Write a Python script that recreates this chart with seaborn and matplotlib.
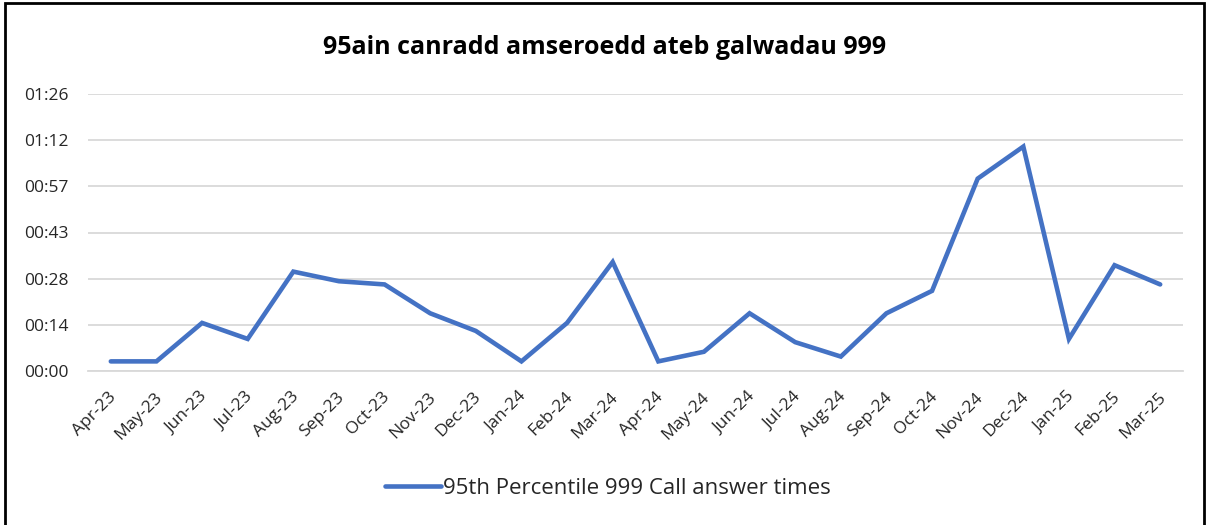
import seaborn as sns
import matplotlib.pyplot as plt
import matplotlib.ticker as mticker
import matplotlib.transforms as mtransforms
import pandas as pd
from matplotlib.patches import Rectangle

months = ["Apr-23", "May-23", "Jun-23", "Jul-23", "Aug-23", "Sep-23", "Oct-23", "Nov-23",
          "Dec-23", "Jan-24", "Feb-24", "Mar-24", "Apr-24", "May-24", "Jun-24", "Jul-24",
          "Aug-24", "Sep-24", "Oct-24", "Nov-24", "Dec-24", "Jan-25", "Feb-25", "Mar-25"]
# seconds
answer_secs = [3, 3, 15, 10, 31, 28, 27, 18, 12.5, 3, 15, 34,
               3, 6, 18, 9, 4.5, 18, 25, 60, 70, 10, 33, 27]
series_name = "95th Percentile 999 Call answer times"
title = "95ain canradd amseroedd ateb galwadau 999"


def fmt_time(v, pos):
    s = int(v + 1e-6)
    return "%02d:%02d" % (s // 60, s % 60)


def main():
    sns.set_theme(style="white")
    plt.rcParams["font.family"] = ["Open Sans", "DejaVu Sans"]

    df = pd.DataFrame({"idx": range(len(months)), "secs": answer_secs})

    fig = plt.figure(figsize=(12.09, 5.25), dpi=100)
    ax = fig.add_axes([88 / 1209, 1 - 371 / 525, (1183 - 88) / 1209, (371 - 94) / 525])

    sns.lineplot(data=df, x="idx", y="secs", ax=ax, color="#4472C4", linewidth=3.3,
                 solid_capstyle="round", solid_joinstyle="miter", label=series_name, legend=False)

    ax.set_xlim(-0.5, len(months) - 0.5)
    ax.set_ylim(0, 86.4)
    ax.yaxis.set_major_locator(mticker.MultipleLocator(14.4))
    ax.yaxis.set_major_formatter(mticker.FuncFormatter(fmt_time))
    ax.grid(axis="y", color="#d9d9d9", linewidth=1.3)
    ax.set_axisbelow(True)

    ax.set_xticks(range(len(months)))
    ax.set_xticklabels(months, rotation=45, ha="right", va="center", rotation_mode="anchor")
    ax.set_xticks([i - 0.5 for i in range(len(months) + 1)], minor=True)
    ax.tick_params(axis="x", which="major", length=0, pad=17, labelsize=12.5, colors="#262626")
    ax.tick_params(axis="x", which="minor", length=5, width=1, color="#d9d9d9")
    ax.tick_params(axis="y", length=0, pad=14, labelsize=12.5, colors="#262626")
    shift = mtransforms.ScaledTranslation(3 / 100, 0, fig.dpi_scale_trans)
    for lab in ax.get_xticklabels():
        lab.set_transform(lab.get_transform() + shift)

    for side in ["top", "right", "left"]:
        ax.spines[side].set_visible(False)
    ax.spines["bottom"].set_color("#d9d9d9")
    ax.spines["bottom"].set_linewidth(1.3)
    ax.set_xlabel("")
    ax.set_ylabel("")

    fig.text(0.5, 1 - 47 / 525, title, ha="center", va="center", fontsize=18,
             fontweight="bold", color="black")

    h, = ax.get_lines()[:1]
    fig.legend([h], [series_name], loc="center", bbox_to_anchor=(0.503, 1 - 488 / 525),
               frameon=False, fontsize=16, handlelength=2.5, handletextpad=0.1)

    fig.patches.append(Rectangle((5 / 1209, -0.1), 1199 / 1209, 1.1 - 3 / 525,
                                 transform=fig.transFigure, fill=False,
                                 edgecolor="black", linewidth=2))

    plt.savefig("out.png", dpi=100)


if __name__ == '__main__':
    main()
